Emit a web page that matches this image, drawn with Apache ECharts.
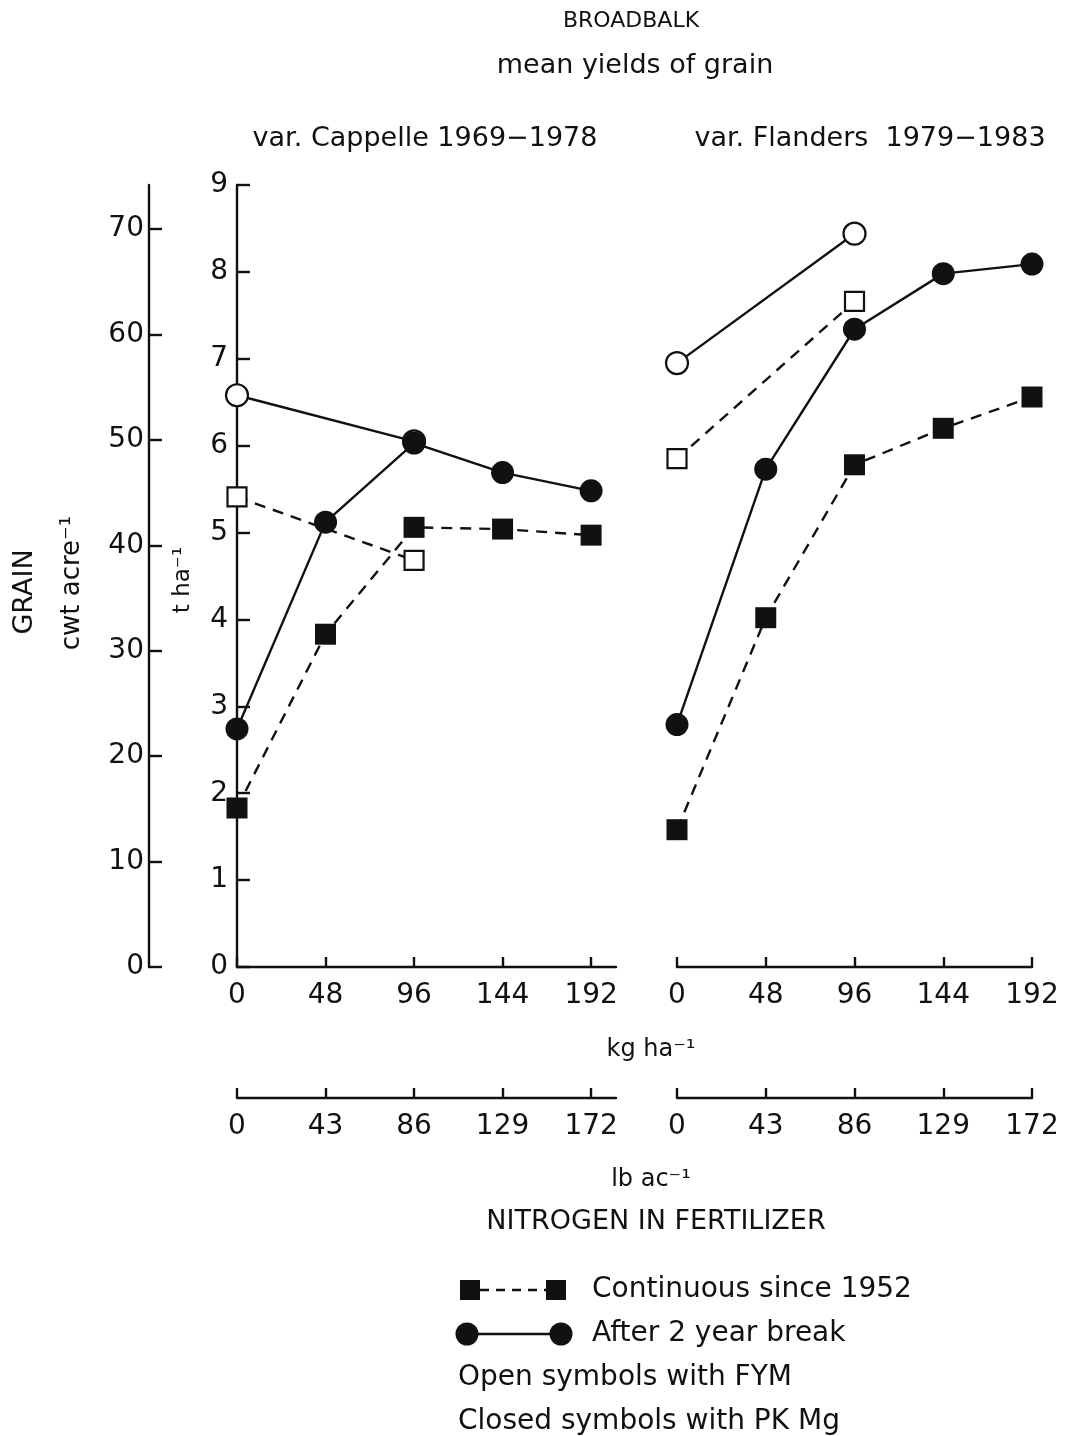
<!DOCTYPE html>
<html>
<head>
<meta charset="utf-8">
<script src="https://cdn.jsdelivr.net/npm/echarts@6/dist/echarts.min.js"></script>
<style>
  html, body { margin: 0; background: #fff; }
  #main { width: 1082px; height: 1436px; }
</style>
</head>
<body>
<div id="main"></div>
<script>
// nitrogen rates (kg/ha) and matching lb/acre labels
var nKg = [0, 48, 96, 144, 192];
var nFym = [0, 96];
var lbLabels = ['0', '43', '86', '129', '172'];
var cwtTicks = [0, 10, 20, 30, 40, 50, 60, 70];

// var. Cappelle 1969-1978, t/ha
var capBreak = [2.74, 5.12, 6.03, 5.69, 5.48];
var capCont = [1.83, 3.83, 5.06, 5.04, 4.97];
var capBreakFym = [6.58, 6.05];
var capContFym = [5.41, 4.68];

// var. Flanders 1979-1983, t/ha
var flaBreak = [2.79, 5.73, 7.34, 7.98, 8.09];
var flaCont = [1.58, 4.02, 5.78, 6.20, 6.56];
var flaBreakFym = [6.95, 8.44];
var flaContFym = [5.85, 7.66];

var FONT = 'DejaVu Sans';
var INK = '#111';

function pairs(xs, ys) {
  return xs.map(function (x, i) { return [x, ys[i]]; });
}

var chart = echarts.init(document.getElementById('main'));

function series(name, xi, xs, ys, opts) {
  return {
    name: name,
    type: 'line',
    xAxisIndex: xi,
    yAxisIndex: xi,
    data: pairs(xs, ys),
    symbol: opts.symbol,
    symbolSize: opts.size,
    showSymbol: true,
    animation: false,
    lineStyle: { color: INK, width: 2.4, type: opts.dashed ? [11, 8] : 'solid' },
    itemStyle: {
      color: opts.open ? '#fff' : INK,
      borderColor: INK,
      borderWidth: opts.open ? 2.2 : 0
    },
    z: opts.z
  };
}

var axisLine = { show: true, lineStyle: { color: INK, width: 2.4 } };
var labelStyle = { color: INK, fontFamily: FONT, fontSize: 28 };

// kg axis for both panels
function kgAxis(gi, max) {
  return {
    type: 'value', gridIndex: gi, min: 0, max: max,
    axisLine: axisLine,
    axisTick: { show: true, inside: true, length: 10, customValues: nKg, lineStyle: { color: INK, width: 2.4 } },
    axisLabel: Object.assign({ margin: 15, customValues: nKg }, labelStyle),
    splitLine: { show: false }
  };
}
function lbAxis(gi, max) {
  return {
    type: 'value', gridIndex: gi, min: 0, max: max, position: 'bottom',
    axisLine: axisLine,
    axisTick: { show: true, inside: true, length: 10, customValues: nKg, lineStyle: { color: INK, width: 2.4 } },
    axisLabel: Object.assign({
      margin: 15, customValues: nKg,
      formatter: function (v) { return lbLabels[nKg.indexOf(v)]; }
    }, labelStyle),
    splitLine: { show: false }
  };
}

function txt(x, y, text, size, align, rot) {
  return {
    type: 'text', x: x, y: y, rotation: rot || 0,
    style: { text: text, font: size + 'px ' + FONT, fill: INK, textAlign: align || 'center', textVerticalAlign: 'middle' }
  };
}

var option = {
  backgroundColor: '#fff',
  animation: false,
  grid: [
    { left: 237, top: 185, width: 379, height: 782, outerBoundsMode: 'none' },
    { left: 677, top: 185, width: 355, height: 782, outerBoundsMode: 'none' },
    { left: 149, top: 185, width: 10, height: 782, outerBoundsMode: 'none' },
    { left: 237, top: 1097, width: 379, height: 1, outerBoundsMode: 'none' },
    { left: 677, top: 1097, width: 355, height: 1, outerBoundsMode: 'none' }
  ],
  xAxis: [
    kgAxis(0, 205.5),
    kgAxis(1, 192),
    { type: 'value', gridIndex: 2, show: false, min: 0, max: 1 },
    lbAxis(3, 205.5),
    lbAxis(4, 192)
  ],
  yAxis: [
    {
      type: 'value', gridIndex: 0, min: 0, max: 9, interval: 1,
      axisLine: axisLine,
      axisTick: { show: true, inside: true, length: 13, lineStyle: { color: INK, width: 2.4 } },
      axisLabel: Object.assign({ margin: 9 }, labelStyle),
      splitLine: { show: false }
    },
    { type: 'value', gridIndex: 1, min: 0, max: 9, show: false },
    {
      type: 'value', gridIndex: 2, min: 0, max: 74.17,
      axisLine: axisLine,
      axisTick: { show: true, inside: true, length: 13, customValues: cwtTicks, lineStyle: { color: INK, width: 2.4 } },
      axisLabel: Object.assign({ margin: 5, customValues: cwtTicks }, labelStyle),
      splitLine: { show: false }
    },
    { type: 'value', gridIndex: 3, show: false, min: 0, max: 1 },
    { type: 'value', gridIndex: 4, show: false, min: 0, max: 1 }
  ],
  series: [
    series('Cappelle FYM continuous', 0, nFym, capContFym, { symbol: 'rect', size: 19, open: true, dashed: true, z: 2 }),
    series('Cappelle FYM break', 0, nFym, capBreakFym, { symbol: 'circle', size: 22, open: true, z: 2 }),
    series('Cappelle continuous', 0, nKg, capCont, { symbol: 'rect', size: 21, dashed: true, z: 3 }),
    series('Cappelle break', 0, nKg, capBreak, { symbol: 'circle', size: 23, z: 4 }),
    series('Flanders FYM continuous', 1, nFym, flaContFym, { symbol: 'rect', size: 19, open: true, dashed: true, z: 2 }),
    series('Flanders FYM break', 1, nFym, flaBreakFym, { symbol: 'circle', size: 22, open: true, z: 2 }),
    series('Flanders continuous', 1, nKg, flaCont, { symbol: 'rect', size: 21, dashed: true, z: 3 }),
    series('Flanders break', 1, nKg, flaBreak, { symbol: 'circle', size: 23, z: 4 })
  ],
  graphic: [
    txt(631, 21, 'BROADBALK', 22),
    txt(635, 66, 'mean yields of grain', 27),
    txt(425, 139, 'var. Cappelle 1969\u22121978', 27),
    txt(870, 139, 'var. Flanders  1979\u22121983', 27),
    txt(25, 592, 'GRAIN', 27, 'center', Math.PI / 2),
    txt(72, 583, 'cwt acre\u207B\u00B9', 26, 'center', Math.PI / 2),
    txt(183, 580, 't ha\u207B\u00B9', 23, 'center', Math.PI / 2),
    txt(651, 1050, 'kg ha\u207B\u00B9', 24),
    txt(651, 1180, 'lb ac\u207B\u00B9', 24),
    txt(656, 1222, 'NITROGEN IN FERTILIZER', 27),

    // legend
    { type: 'line', shape: { x1: 480, y1: 1290, x2: 546, y2: 1290 }, style: { stroke: INK, lineWidth: 2.4, lineDash: [9, 7] } },
    { type: 'rect', shape: { x: 460, y: 1280, width: 20, height: 20 }, style: { fill: INK } },
    { type: 'rect', shape: { x: 546, y: 1280, width: 20, height: 20 }, style: { fill: INK } },
    txt(592, 1290, 'Continuous since 1952', 28, 'left'),
    { type: 'line', shape: { x1: 467, y1: 1334, x2: 561, y2: 1334 }, style: { stroke: INK, lineWidth: 2.4 } },
    { type: 'circle', shape: { cx: 467, cy: 1334, r: 11.5 }, style: { fill: INK } },
    { type: 'circle', shape: { cx: 561, cy: 1334, r: 11.5 }, style: { fill: INK } },
    txt(592, 1334, 'After 2 year break', 28, 'left'),
    txt(458, 1378, 'Open symbols with FYM', 28, 'left'),
    txt(458, 1422, 'Closed symbols with PK Mg', 28, 'left')
  ]
};

chart.setOption(option);
</script>
</body>
</html>
